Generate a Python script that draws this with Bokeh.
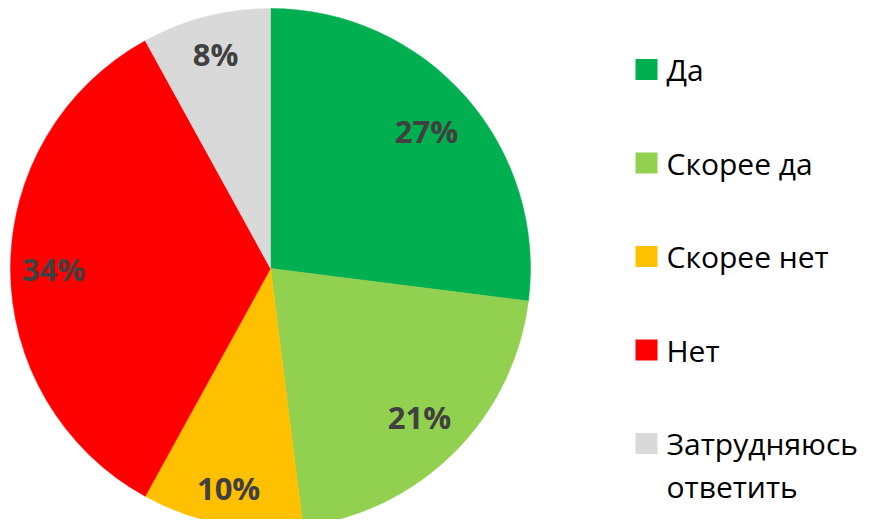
import math
from bokeh.plotting import figure
from bokeh.models import ColumnDataSource, Range1d
from bokeh.core.properties import value
from bokeh.embed import file_html
from bokeh.resources import INLINE

# ---- data ----
categories = ["Да", "Скорее да", "Скорее нет", "Нет", "Затрудняюсь\nответить"]
shares = [27, 21, 10, 34, 8]
pct_labels = ["27%", "21%", "10%", "34%", "8%"]
colors = ["#00B050", "#92D050", "#FFC000", "#FF0000", "#D9D9D9"]

# ---- layout (pixels inside the figure, y measured from the bottom) ----
W, H = 865, 519
CX, CY, R = 270, H - 268, 260
label_r_frac = [0.80, 0.81, 0.86, 0.835, 0.85]
leg_x, leg_top, leg_step = 646, H - 69, 93.5
sq_w, sq_h = 22, 21
txt_x = 666
line_gap = 43

p = figure(width=W, height=H, output_backend="svg", toolbar_location=None,
           x_range=Range1d(0, W), y_range=Range1d(0, H),
           min_border=0, min_border_left=0, min_border_right=0,
           min_border_top=0, min_border_bottom=0)
p.axis.visible = False
p.grid.visible = False
p.outline_line_color = None
p.background_fill_color = "white"
p.border_fill_color = "white"

total = sum(shares)
starts, ends, lx, ly = [], [], [], []
cum = 0
for i, s in enumerate(shares):
    a0 = math.pi / 2 - 2 * math.pi * cum / total
    a1 = math.pi / 2 - 2 * math.pi * (cum + s) / total
    starts.append(a0)
    ends.append(a1)
    mid = (a0 + a1) / 2
    lx.append(CX + label_r_frac[i] * R * math.cos(mid))
    ly.append(CY + label_r_frac[i] * R * math.sin(mid))
    cum += s

src = ColumnDataSource(dict(start=starts, end=ends, color=colors,
                            lx=lx, ly=ly, lab=pct_labels))
p.wedge(x=CX, y=CY, radius=R, start_angle="start", end_angle="end",
        direction="clock", fill_color="color", line_color="color",
        line_width=0.5, source=src)
p.text(x="lx", y="ly", text="lab", source=src, text_align="center",
       text_baseline="middle", text_font=value("Open Sans"),
       text_font_style="bold", text_font_size="31px", text_color="#404040")

# legend
sq_x, sq_y, sq_c = [], [], []
tx, ty, tt = [], [], []
for i, cat in enumerate(categories):
    yc = leg_top - i * leg_step
    sq_x.append(leg_x)
    sq_y.append(yc)
    sq_c.append(colors[i])
    for j, line in enumerate(cat.split("\n")):
        tx.append(txt_x)
        ty.append(yc - j * line_gap)
        tt.append(line)

p.rect(x=sq_x, y=sq_y, width=sq_w, height=sq_h, fill_color=sq_c, line_color=None)
p.text(x=tx, y=ty, text=tt, text_align="left", text_baseline="middle",
       text_font=value("Open Sans"), text_font_size="30px", text_color="#000000")

open("out.html", "w").write(file_html(p, INLINE))
